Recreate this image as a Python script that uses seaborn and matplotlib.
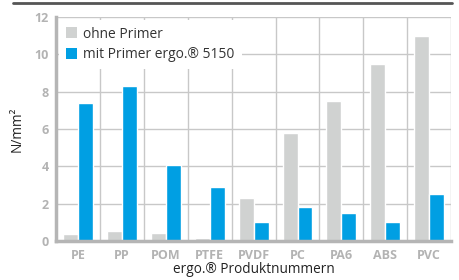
import matplotlib
matplotlib.use("Agg")
import matplotlib.pyplot as plt
import seaborn as sns
import pandas as pd
from matplotlib.lines import Line2D
from matplotlib.patches import Patch

categories = ["PE", "PP", "POM", "PTFE", "PVDF", "PC", "PA6", "ABS", "PVC"]
ohne_primer = [0.4, 0.55, 0.45, 0.18, 2.3, 5.8, 7.5, 9.5, 11.0]
mit_primer = [7.4, 8.3, 4.1, 2.9, 1.0, 1.8, 1.5, 1.0, 2.5]
series_names = ["ohne Primer", "mit Primer ergo.® 5150"]
yticks = [0, 2, 4, 6, 8, 10, 12]

df = pd.DataFrame({
    "Kategorie": categories * 2,
    "Wert": ohne_primer + mit_primer,
    "Serie": [series_names[0]] * len(categories) + [series_names[1]] * len(categories),
})

sns.set_style("white")
plt.rcParams["font.family"] = ["Open Sans", "DejaVu Sans"]

gray = "#d0d2d1"
blue = "#009fe3"
tick_gray = "#b3b3b3"
grid_gray = "#c8c8c8"

fig = plt.figure(figsize=(4.59, 2.80), dpi=100)
ax = fig.add_axes([0.122, 0.139, 0.861, 0.800])

sns.barplot(data=df, x="Kategorie", y="Wert", hue="Serie",
            palette=[gray, blue], width=0.68, saturation=1,
            ax=ax, legend=False, zorder=3)

ax.set_ylim(0, 12)
ax.set_xlim(-0.5, len(categories) - 0.5)
ax.set_yticks(yticks)
ax.set_xticks(range(len(categories)))
ax.set_xticks([i - 0.5 for i in range(len(categories) + 1)], minor=True)

ax.grid(False)
ax.yaxis.grid(True, which="major", color=grid_gray, lw=1.0, zorder=0)
ax.xaxis.grid(True, which="minor", color=grid_gray, lw=1.0, zorder=0)
ax.set_axisbelow(True)

for s in ["top", "right"]:
    ax.spines[s].set_visible(False)
for s in ["left", "bottom"]:
    ax.spines[s].set_color("#b5b5b5")
    ax.spines[s].set_linewidth(2.5)
    ax.spines[s].set_zorder(4)

ax.tick_params(axis="x", which="major", length=0, pad=6,
               labelsize=9, labelcolor=tick_gray)
ax.tick_params(axis="x", which="minor", length=5, width=1, color="#b5b5b5", direction="out")
ax.tick_params(axis="y", which="major", length=3, width=1, color="#b5b5b5",
               labelsize=9, labelcolor=tick_gray, pad=2)
for lab in ax.get_xticklabels() + ax.get_yticklabels():
    lab.set_fontweight("bold")

ax.set_xlabel("ergo.® Produktnummern", fontsize=9.8, color="#222222", labelpad=0)
ax.set_ylabel("N/mm²", fontsize=9.8, color="#222222", labelpad=7)

handles = [Patch(facecolor=gray, edgecolor="none"), Patch(facecolor=blue, edgecolor="none")]
leg = ax.legend(handles, series_names, loc="upper left", bbox_to_anchor=(0.0, 1.0),
                frameon=True, fancybox=False, framealpha=1, facecolor="white",
                edgecolor="none", fontsize=9.9, handlelength=0.85, handleheight=0.85,
                handletextpad=0.45, labelspacing=0.4, borderpad=0.5, borderaxespad=0.2)
leg.set_zorder(5)
for t in leg.get_texts():
    t.set_color("#333333")

fig.add_artist(Line2D([13 / 459, 452 / 459], [1 - 2.5 / 280, 1 - 2.5 / 280],
                      color="#555555", lw=2))

fig.savefig("out.png", dpi=100)
